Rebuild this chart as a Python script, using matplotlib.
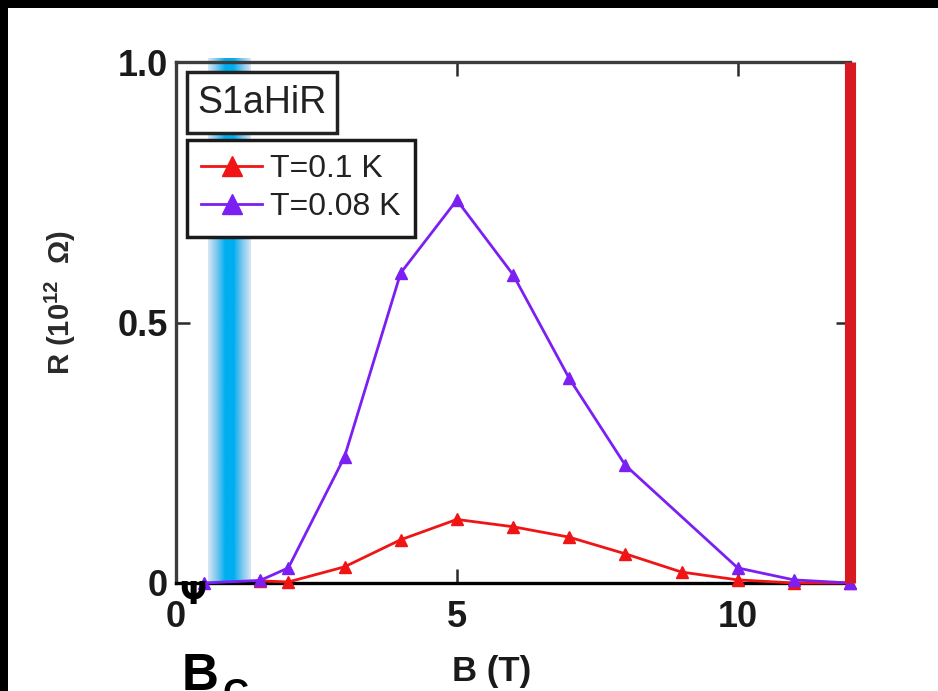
import numpy as np
import matplotlib
matplotlib.use("Agg")
import matplotlib.pyplot as plt
from matplotlib.patches import Rectangle
from matplotlib.colors import LinearSegmentedColormap

plt.rcParams['font.family'] = ['Liberation Sans', 'DejaVu Sans']
plt.rcParams['mathtext.fontset'] = 'custom'
plt.rcParams['mathtext.rm'] = 'Liberation Sans:bold'
plt.rcParams['mathtext.default'] = 'rm'

W, H, DPI = 938, 691, 100

# magnetic field (T) and resistance (10^12 Ohm)
b_100mK = [1.5, 2, 3, 4, 5, 6, 7, 8, 9, 10, 11, 12]
r_100mK = [0.004, 0.002, 0.031, 0.083, 0.122, 0.108, 0.088, 0.056, 0.021, 0.006, 0.0, 0.0]
b_080mK = [0.5, 1.5, 2, 3, 4, 5, 6, 7, 8, 10, 11, 12]
r_080mK = [0.0, 0.005, 0.029, 0.242, 0.595, 0.735, 0.592, 0.393, 0.226, 0.029, 0.006, 0.0]
series_labels = ["T=0.1 K", "T=0.08 K"]
sample_name = "S1aHiR"
x_ticks = [0, 5, 10]
x_ticklabels = ["0", "5", "10"]
y_ticks = [0, 0.5, 1.0]
y_ticklabels = ["0", "0.5", "1.0"]
bc_band = (0.57, 1.32)   # critical-field band
b_max = 12

RED = '#f01414'
PURPLE = '#7b1ff2'
TXT = '#1a1a1a'


def fx(px):
    return px / W


def fy(py):
    return 1 - py / H


fig = plt.figure(figsize=(W / DPI, H / DPI), dpi=DPI, facecolor='white')

# dark frame strips along top and left
fig.patches.append(Rectangle((0, fy(8)), 1, 8 / H, transform=fig.transFigure,
                             facecolor='black', edgecolor='none', zorder=0))
fig.patches.append(Rectangle((0, 0), 8 / W, 1, transform=fig.transFigure,
                             facecolor='black', edgecolor='none', zorder=0))

ax = fig.add_axes([fx(176), fy(583), (850 - 176) / W, (583 - 62) / H])
ax.set_xlim(0, b_max)
ax.set_ylim(0, 1.0)

# shaded Bc band with a cyan core fading to pale edges
band_cmap = LinearSegmentedColormap.from_list(
    'band', ['#d8e7f5', '#7cc8ef', '#00aeef', '#00aeef', '#7cc8ef', '#d8e7f5'])
grad = np.linspace(0, 1, 200)[None, :]
ax.imshow(grad, extent=(bc_band[0], bc_band[1], 0, 1.006), aspect='auto',
          cmap=band_cmap, interpolation='bilinear', zorder=1, clip_on=False)

l1, = ax.plot(b_100mK, r_100mK, '-^', color=RED, lw=2.0, ms=8, zorder=3,
              label=series_labels[0], clip_on=False)
l2, = ax.plot(b_080mK, r_080mK, '-^', color=PURPLE, lw=2.0, ms=8, zorder=4,
              label=series_labels[1], clip_on=False)

# upper field limit marker
ax.axvline(b_max, color='#d71a21', lw=8, solid_capstyle='butt', zorder=5, clip_on=False)

for side in ('left', 'top'):
    ax.spines[side].set_color('#3c3c3c')
    ax.spines[side].set_linewidth(2.4)
ax.spines['bottom'].set_color('black')
ax.spines['bottom'].set_linewidth(2.4)
ax.spines['right'].set_visible(False)

ax.set_xticks(x_ticks)
ax.set_xticklabels(x_ticklabels)
ax.set_yticks(y_ticks)
ax.set_yticklabels(y_ticklabels)
ax.tick_params(axis='both', direction='in', length=10, width=1.8, color='#2a2a2a',
               top=True, right=True, labelsize=26, labelcolor=TXT)
ax.tick_params(axis='x', pad=12)
ax.tick_params(axis='y', pad=6)
for t in ax.get_xticklabels() + ax.get_yticklabels():
    t.set_fontweight('bold')

fig.text(fx(60), fy(303), r"R (10$^{12}$  Ω)", rotation=90, ha='center', va='center',
         fontsize=21, fontweight='bold', color='#2a2a2a')
fig.text(fx(492), fy(671), "B (T)", ha='center', va='center',
         fontsize=25, fontweight='bold', color=TXT)

# sample name box
fig.patches.append(Rectangle((fx(187), fy(133)), 150 / W, 61 / H, transform=fig.transFigure,
                             facecolor='white', edgecolor='#222222', lw=2.5, zorder=6))
fig.text(fx(262), fy(103), sample_name, ha='center', va='center', fontsize=27,
         color='#222222', zorder=7)

leg = ax.legend(handles=[l1, l2], loc='upper left',
                bbox_to_anchor=(fx(187), fy(140)), bbox_transform=fig.transFigure,
                borderaxespad=0, fontsize=23, frameon=True, fancybox=False,
                edgecolor='#1a1a1a', framealpha=1, handlelength=1.9,
                handletextpad=0.25, borderpad=0.45, labelspacing=0.25, markerscale=1.8)
leg.get_frame().set_linewidth(2.5)
for t in leg.get_texts():
    t.set_color('#222222')

# arrow tip below the origin and the Bc annotation
fig.text(fx(193), fy(595), "Ψ", ha='center', va='center', fontsize=23,
         fontweight='bold', family=['DejaVu Sans'], color='black')
fig.text(fx(182), fy(690), "B", ha='left', va='baseline', fontsize=37, fontweight='bold',
         color='black')
fig.text(fx(222), fy(705), "C", ha='left', va='baseline', fontsize=26, fontweight='bold',
         color='black')

fig.savefig('out.png', dpi=DPI, facecolor='white')
